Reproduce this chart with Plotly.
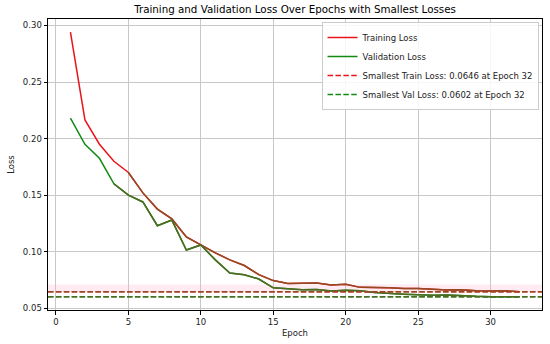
import plotly.graph_objects as go

epochs = list(range(1, 33))
train_loss = [0.294, 0.2165, 0.195, 0.180, 0.170, 0.152, 0.1377, 0.129, 0.113, 0.106,
              0.099, 0.0928, 0.0878, 0.0797, 0.0745, 0.0719, 0.0719, 0.0724, 0.0705, 0.0712,
              0.0685, 0.0685, 0.0682, 0.0675, 0.0675, 0.0668, 0.0662, 0.0665, 0.0655, 0.0652,
              0.0655, 0.0646]
val_loss = [0.218, 0.195, 0.1826, 0.160, 0.150, 0.144, 0.123, 0.128, 0.1015, 0.106,
            0.0928, 0.0811, 0.0797, 0.0759, 0.0681, 0.0672, 0.0664, 0.0667, 0.0652, 0.0660,
            0.0655, 0.0640, 0.0630, 0.0625, 0.0620, 0.0615, 0.0618, 0.0610, 0.0606, 0.0603,
            0.0604, 0.0602]

min_train = min(train_loss)
min_val = min(val_loss)
min_train_ep = epochs[train_loss.index(min_train)]
min_val_ep = epochs[val_loss.index(min_val)]

train_shift = 4  # index from which the drawn line looks brownish
val_shift = 3

RED = "#e8141a"
GREEN = "#138a13"
BROWN = "#934a22"
OLIVE = "#4f6a22"
FONT = "DejaVu Sans"

fig = go.Figure()

fig.add_trace(go.Scatter(x=epochs, y=train_loss, mode="lines", name="Training Loss",
                         line=dict(color=RED, width=1.5)))
fig.add_trace(go.Scatter(x=epochs, y=val_loss, mode="lines", name="Validation Loss",
                         line=dict(color=GREEN, width=1.5)))
fig.add_trace(go.Scatter(x=epochs[train_shift:], y=train_loss[train_shift:], mode="lines",
                         showlegend=False, hoverinfo="skip",
                         line=dict(color=BROWN, width=1.5)))
fig.add_trace(go.Scatter(x=epochs[val_shift:], y=val_loss[val_shift:], mode="lines",
                         showlegend=False, hoverinfo="skip",
                         line=dict(color=OLIVE, width=1.5)))

# faint pink band just above the smallest training loss
fig.add_shape(type="rect", xref="paper", yref="y", x0=0, x1=1,
              y0=min_train, y1=min_train * 1.1,
              fillcolor="rgba(255,182,205,0.28)", line=dict(width=0), layer="below")

dash = "5.5px,2.4px"
fig.add_shape(type="line", xref="paper", yref="y", x0=0, x1=1, y0=min_train, y1=min_train,
              line=dict(color=RED, width=1.5, dash=dash), showlegend=True,
              name=f"Smallest Train Loss: {min_train:.4f} at Epoch {min_train_ep}")
fig.add_shape(type="line", xref="paper", yref="y", x0=0, x1=1, y0=min_val, y1=min_val,
              line=dict(color=GREEN, width=1.5, dash=dash), showlegend=True,
              name=f"Smallest Val Loss: {min_val:.4f} at Epoch {min_val_ep}")
fig.add_shape(type="line", xref="paper", yref="y", x0=0, x1=1, y0=min_train, y1=min_train,
              line=dict(color=BROWN, width=1.5, dash=dash))
fig.add_shape(type="line", xref="paper", yref="y", x0=0, x1=1, y0=min_val, y1=min_val,
              line=dict(color=OLIVE, width=1.5, dash=dash))

axis_common = dict(showline=True, mirror=True, linecolor="black", linewidth=1,
                   ticks="outside", ticklen=3.5, tickwidth=0.8, tickcolor="black",
                   showgrid=True, gridcolor="#c8c8c8", gridwidth=0.8, zeroline=False,
                   tickfont=dict(family=FONT, size=8.5, color="#222"))

fig.update_layout(
    width=550, height=344,
    margin=dict(l=48, r=7, t=19, b=30),
    paper_bgcolor="white", plot_bgcolor="white",
    title=dict(text="Training and Validation Loss Over Epochs with Smallest Losses",
               x=0.5, xanchor="center", xref="paper", y=0.972, yanchor="middle",
               font=dict(family=FONT, size=10.3, color="black")),
    xaxis=dict(range=[-0.55, 33.55], tickmode="array", tickvals=[0, 5, 10, 15, 20, 25, 30],
               title=dict(text="Epoch", standoff=4, font=dict(family=FONT, size=8.5, color="#222")),
               **axis_common),
    yaxis=dict(range=[0.0485, 0.3057], tickmode="array",
               tickvals=[0.05, 0.10, 0.15, 0.20, 0.25, 0.30], tickformat=".2f",
               title=dict(text="Loss", standoff=6, font=dict(family=FONT, size=8.5, color="#222")),
               **axis_common),
    legend=dict(x=0.993, y=0.99, xanchor="right", yanchor="top",
                bgcolor="rgba(255,255,255,0.85)", bordercolor="#cccccc", borderwidth=1,
                font=dict(family=FONT, size=8.5, color="#222"), tracegroupgap=0,
                itemwidth=30),
    showlegend=True,
)

fig.write_html("out.html", config={"displayModeBar": False},
               post_script="document.body.style.margin='0';")
